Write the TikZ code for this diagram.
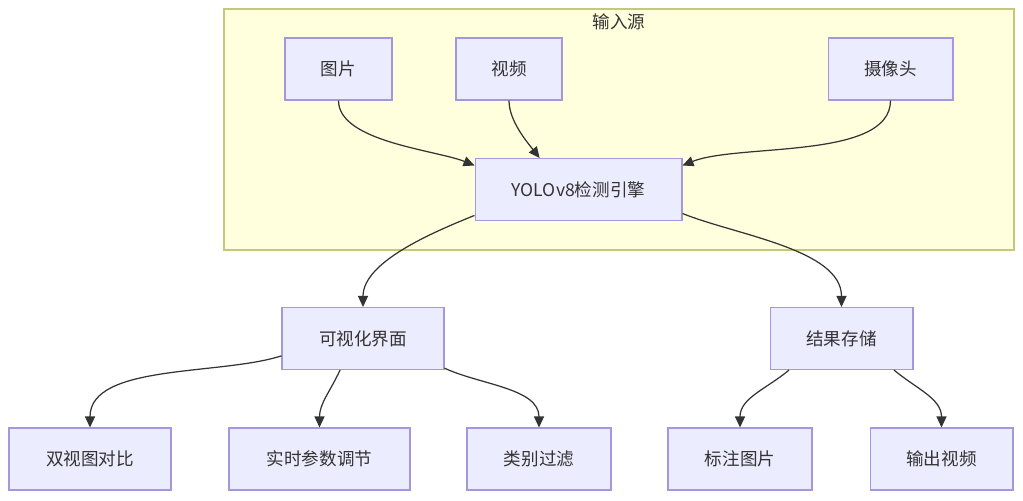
\documentclass[tikz,border=0pt]{standalone}
\usepackage{fontspec}
\setmainfont{Noto Sans CJK SC}
\usepackage{tikz}
\usetikzlibrary{backgrounds, fit}
\usetikzlibrary{arrows.meta}
\usetikzlibrary{calc}
\definecolor{boxfill}{HTML}{ECECFF}
\definecolor{boxline}{HTML}{A496DF}
\definecolor{srcfill}{HTML}{FFFFDE}
\definecolor{srcline}{HTML}{C4C87E}
\definecolor{ink}{HTML}{333333}

\begin{document}
\begin{tikzpicture}[
            x = 0.02cm, y = 0.02cm, % one unit = one pixel
            > = {Triangle[length=2.2mm, width=2mm]}, % arrow head style
            semithick, % line style
            font = \fontsize{10}{12}\selectfont
        ]

        \tikzstyle{box}=[
            draw = boxline,
            fill = boxfill,
            text = ink,
            line width = 0.6pt,
            minimum height = 1.24cm,
            inner sep = 0pt
        ]
        \tikzstyle{link}=[
            ->,
            draw = ink,
            line width = 0.7pt
        ]

        \useasboundingbox (0,0) rectangle (1023,-500);

	% input sources
        \node[box, minimum width=2.14cm] (img) at (338.5,-69) {图片};
        \node[box, minimum width=2.12cm] (vid) at (509,-69) {视频};
        \node[box, minimum width=2.5cm] (cam) at (890.5,-69) {摄像头};
        \node[box, minimum width=4.14cm] (yolo) at (578.5,-189.5) {YOLOv8检测引擎};

        \draw[link] (img.south) to[out=-90, in=158, looseness=0.7] (yolo.167);
        \draw[link] (vid.south) to[out=-90, in=128, looseness=0.8] (yolo.141);
        \draw[link] (cam.south) to[out=-90, in=22, looseness=0.7] (yolo.13);

         % outputs
         \node[box, minimum width=3.24cm] (vis) at (363,-338.5) {可视化界面};
         \node[box, minimum width=2.86cm] (res) at (841.5,-338.5) {结果存储};

         \draw[link] (yolo.194) to[out=202, in=90, looseness=0.8] (vis.north);
         \draw[link] (yolo.347) to[out=-22, in=90, looseness=0.8] (res.north);

         % features
         \node[box, minimum width=3.24cm] (dual) at (90,-459) {双视图对比};
         \node[box, minimum width=3.62cm] (tune) at (319.5,-459) {实时参数调节};
         \node[box, minimum width=2.88cm] (filt) at (539,-459) {类别过滤};
         \node[box, minimum width=2.88cm] (annimg) at (740,-459) {标注图片};
         \node[box, minimum width=2.86cm] (outvid) at (941.5,-459) {输出视频};

         \draw[link] (vis.192) to[out=198, in=90, looseness=0.8] (dual.north);
         \draw[link] (vis.234) to[out=245, in=90] (tune.north);
         \draw[link] (vis.340) to[out=-25, in=90, looseness=0.9] (filt.north);
         \draw[link] (res.211) to[out=220, in=90] (annimg.north);
         \draw[link] (res.329) to[out=-40, in=90] (outvid.north);

          \begin{scope}[on background layer]
          \coordinate (cl1) at (224,-9);
          \coordinate (cl2) at (1014,-250);
   	  \node (src) [fit=(cl1) (cl2), draw=srcline, fill=srcfill, line width=0.8pt, inner sep=0pt] {};
          \end{scope}
          \node[text=ink] (srclbl) at (619,-22) {输入源};

  \end{tikzpicture}
\end{document}
